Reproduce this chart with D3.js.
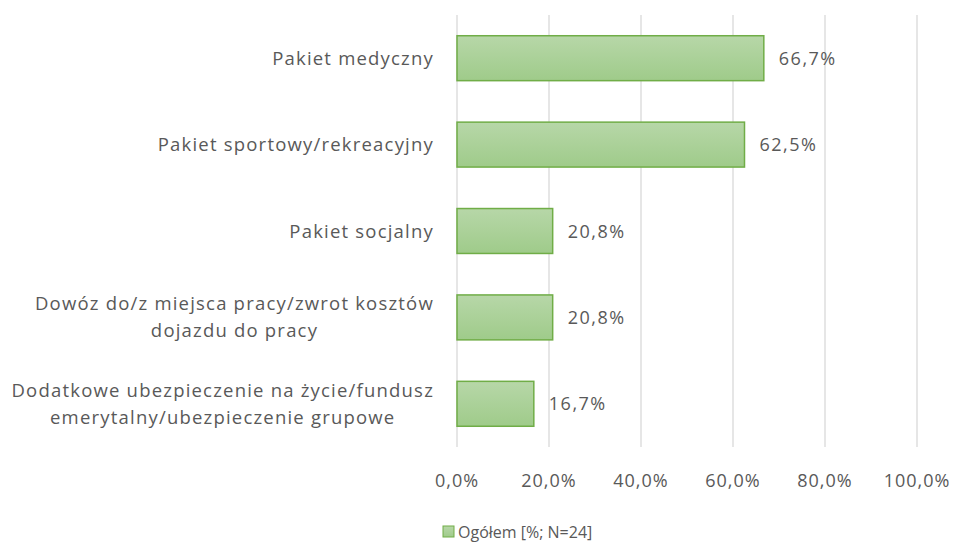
<!DOCTYPE html>
<html>
<head>
<meta charset="utf-8">
<script src="https://cdn.jsdelivr.net/npm/d3@7"></script>
<style>
  body { margin: 0; background: #fff; }
  text { font-family: "Open Sans", "DejaVu Sans", sans-serif; fill: #595959; }
</style>
</head>
<body>
<div id="chart"></div>
<script>
const width = 957;
const height = 542;

const categories = [
  ["Pakiet medyczny"],
  ["Pakiet sportowy/rekreacyjny"],
  ["Pakiet socjalny"],
  ["Dowóz do/z miejsca pracy/zwrot kosztów", "dojazdu do pracy"],
  ["Dodatkowe ubezpieczenie na życie/fundusz", "emerytalny/ubezpieczenie grupowe"]
];
const values = [66.7, 62.5, 20.8, 20.8, 16.7];
const ticks = [0, 20, 40, 60, 80, 100];
const seriesName = "Ogółem [%; N=24]";

const fmt = v => v.toFixed(1).replace(".", ",") + "%";

const svg = d3.select("#chart").append("svg")
  .attr("width", width)
  .attr("height", height);

const defs = svg.append("defs");
const grad = defs.append("linearGradient")
  .attr("id", "barGrad")
  .attr("x1", 0).attr("y1", 0).attr("x2", 0).attr("y2", 1);
grad.append("stop").attr("offset", "0%").attr("stop-color", "#b7d7a8");
grad.append("stop").attr("offset", "100%").attr("stop-color", "#9fcb8a");

const x = d3.scaleLinear().domain([0, 100]).range([457, 917]);
const y = d3.scaleBand()
  .domain(d3.range(values.length))
  .range([15, 447])
  .paddingInner(0.48)
  .paddingOuter(0.24);

// gridlines
svg.append("g")
  .selectAll("line")
  .data(ticks)
  .join("line")
  .attr("x1", d => x(d)).attr("x2", d => x(d))
  .attr("y1", 15).attr("y2", 447)
  .attr("stroke", "#d9d9d9")
  .attr("stroke-width", 1.3);

// tick labels
svg.append("g")
  .selectAll("text")
  .data(ticks)
  .join("text")
  .attr("x", d => x(d))
  .attr("y", 487)
  .attr("text-anchor", "middle")
  .attr("font-size", "18px")
  .attr("letter-spacing", "1px")
  .text(d => fmt(d));

// bars
svg.append("g")
  .selectAll("rect")
  .data(values)
  .join("rect")
  .attr("x", x(0))
  .attr("y", (d, i) => y(i))
  .attr("width", d => x(d) - x(0))
  .attr("height", y.bandwidth())
  .attr("fill", "url(#barGrad)")
  .attr("stroke", "#70ad47")
  .attr("stroke-width", 1.5);

// value labels
svg.append("g")
  .selectAll("text")
  .data(values)
  .join("text")
  .attr("x", d => x(d) + 15)
  .attr("y", (d, i) => y(i) + y.bandwidth() / 2 + 6.5)
  .attr("font-size", "18px")
  .attr("letter-spacing", "1.5px")
  .text(d => fmt(d));

// category labels (centered block, right-aligned)
const labelRight = 434;
const lineH = 27;
categories.forEach((lines, i) => {
  const g = svg.append("g");
  const cy = y(i) + y.bandwidth() / 2;
  const texts = lines.map((t, j) =>
    g.append("text")
      .attr("font-size", "18.5px")
      .attr("letter-spacing", "1.2px")
      .attr("text-anchor", "middle")
      .attr("y", cy + 6.5 + (j - (lines.length - 1) / 2) * lineH)
      .text(t)
  );
  const maxW = d3.max(texts, t => t.node().getComputedTextLength());
  texts.forEach(t => t.attr("x", labelRight - maxW / 2));
});

// legend
const legend = svg.append("g");
legend.append("rect")
  .attr("x", 443).attr("y", 526)
  .attr("width", 11).attr("height", 11)
  .attr("fill", "url(#barGrad)")
  .attr("stroke", "#70ad47");
legend.append("text")
  .attr("x", 458).attr("y", 538)
  .attr("font-size", "16px")
  .text(seriesName);
</script>
</body>
</html>
